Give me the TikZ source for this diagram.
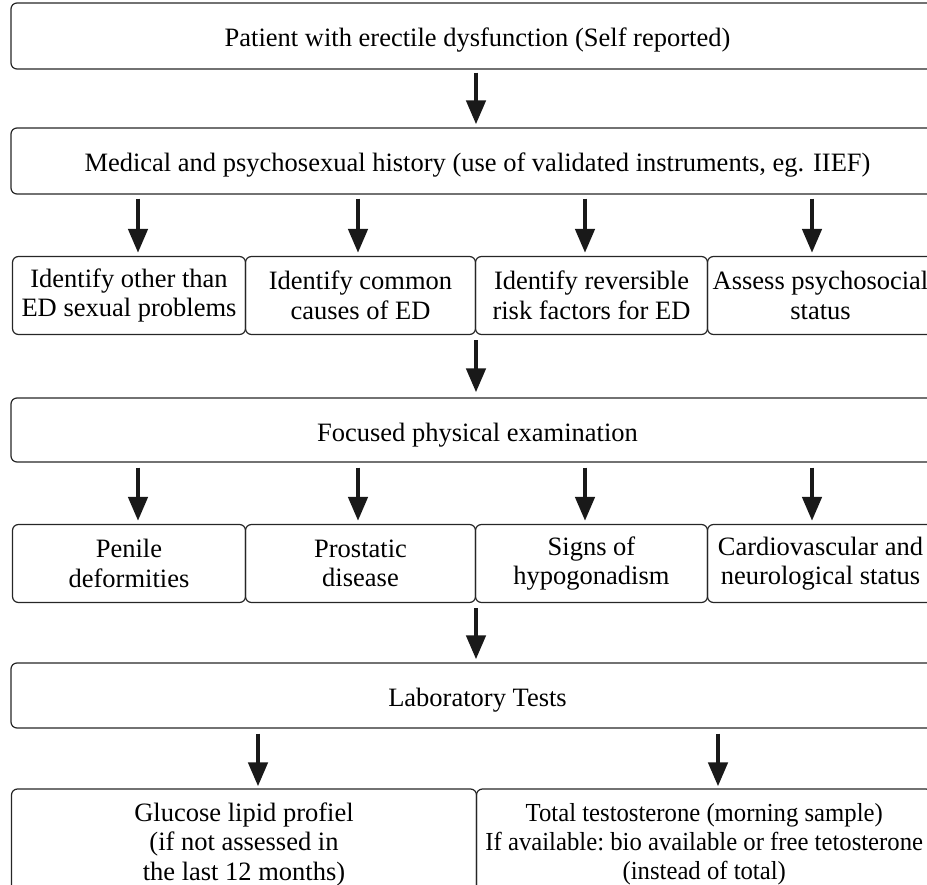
\documentclass[tikz,border=0pt]{standalone}
\usepackage{fontspec}
\setmainfont{Liberation Serif}
\newfontfamily\narrowserif[FakeStretch=0.95]{Liberation Serif}
\usetikzlibrary{arrows.meta}
\tikzset{
  box/.style={draw=black!85, line width=1.2pt, rounded corners=6pt, inner sep=0pt,
    align=center, font=\fontsize{26.5}{29.5}\selectfont},
  oneline/.style={text height=26pt, text depth=4pt},
  arr/.style={line width=4.5pt, -{Triangle[width=19pt,length=24pt]}, black!90},
}
\begin{document}
\begin{tikzpicture}[x=1pt,y=-1pt]
\useasboundingbox (0,0) rectangle (927,885);
\clip (0,0) rectangle (927,885);
% top boxes
\node[box, oneline, minimum width=933pt, minimum height=66pt] (b1) at (477.5,36) {Patient with erectile dysfunction (Self reported)};
\node[box, oneline, minimum width=933pt, minimum height=66pt] (b2) at (477.5,161) {Medical and psychosexual history (use of validated instruments, eg. IIEF)};
% row 3
\node[box, minimum width=233pt, minimum height=78pt] (r3a) at (129,295.5) {Identify other than\\ED sexual problems};
\node[box, minimum width=230pt, minimum height=78pt] (r3b) at (360.5,295.5) {Identify common\\causes of ED};
\node[box, minimum width=232pt, minimum height=78pt] (r3c) at (591.5,295.5) {Identify reversible\\risk factors for ED};
\node[box, minimum width=226pt, minimum height=78pt] (r3d) at (820.5,295.5) {Assess psychosocial\\status};
% box 4
\node[box, oneline, minimum width=933pt, minimum height=64pt] (b4) at (477.5,430) {Focused physical examination};
% row 5
\node[box, minimum width=233pt, minimum height=78pt] (r5a) at (129,563.5) {Penile\\deformities};
\node[box, minimum width=230pt, minimum height=78pt] (r5b) at (360.5,563.5) {Prostatic\\disease};
\node[box, minimum width=232pt, minimum height=78pt] (r5c) at (591.5,563.5) {Signs of\\hypogonadism};
\node[box, minimum width=226pt, minimum height=78pt] (r5d) at (820.5,563.5) {Cardiovascular and\\neurological status};
% box 6
\node[box, oneline, minimum width=933pt, minimum height=65pt] (b6) at (477.5,695.5) {Laboratory Tests};
% row 7
\node[box, minimum width=465pt, minimum height=110pt] (r7a) at (244,844) {Glucose lipid profiel\\(if not assessed in\\the last 12 months)};
\node[box, minimum width=455.5pt, minimum height=110pt, font=\narrowserif\fontsize{26}{29}\selectfont\frenchspacing] (r7b) at (704.25,844) {Total testosterone (morning sample)\\If available: bio available or free tetosterone\\(instead of total)};
% arrow columns
\coordinate (xm) at (476,0);
\coordinate (xa) at (138,0);
\coordinate (xb) at (358,0);
\coordinate (xc) at (585,0);
\coordinate (xd) at (812,0);
\coordinate (xl) at (258,0);
\coordinate (xr) at (718,0);
% arrows
\draw[arr, shorten <=3pt, shorten >=3pt] (b1.south -| xm) -- (b2.north -| xm);
\foreach \c/\t in {xa/r3a, xb/r3b, xc/r3c, xd/r3d}
  \draw[arr, shorten <=4pt, shorten >=3pt] (b2.south -| \c) -- (\t.north -| \c);
\draw[arr, shorten <=5pt, shorten >=5pt] (r3b.south -| xm) -- (b4.north -| xm);
\foreach \c/\t in {xa/r5a, xb/r5b, xc/r5c, xd/r5d}
  \draw[arr, shorten <=5pt, shorten >=3pt] (b4.south -| \c) -- (\t.north -| \c);
\draw[arr, shorten <=5pt, shorten >=3pt] (r5b.south -| xm) -- (b6.north -| xm);
\draw[arr, shorten <=5pt, shorten >=2pt] (b6.south -| xl) -- (r7a.north -| xl);
\draw[arr, shorten <=5pt, shorten >=2pt] (b6.south -| xr) -- (r7b.north -| xr);
\end{tikzpicture}
\end{document}
